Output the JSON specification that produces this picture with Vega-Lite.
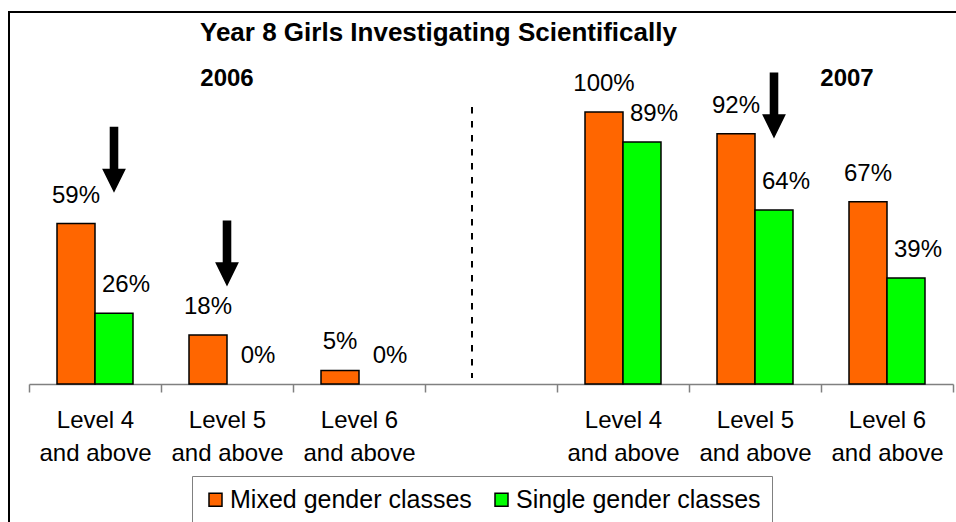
{
  "$schema": "https://vega.github.io/schema/vega-lite/v6.json",
  "width": 953,
  "height": 516,
  "autosize": {"type": "none"},
  "padding": {"left": 9, "top": 12, "right": -6, "bottom": -6},
  "background": "white",
  "title": {
    "text": "Year 8 Girls Investigating Scientifically",
    "anchor": "start",
    "frame": "group",
    "dx": 191,
    "offset": -55,
    "baseline": "alphabetic",
    "fontSize": 26,
    "font": "Liberation Sans",
    "fontWeight": "bold",
    "color": "black"
  },
  "datasets": {
    "bars": [
      {"cat": "L4-2006", "series": "Mixed gender classes", "value": 0.59},
      {"cat": "L4-2006", "series": "Single gender classes", "value": 0.26},
      {"cat": "L5-2006", "series": "Mixed gender classes", "value": 0.18},
      {"cat": "L5-2006", "series": "Single gender classes", "value": 0.0},
      {"cat": "L6-2006", "series": "Mixed gender classes", "value": 0.05},
      {"cat": "L6-2006", "series": "Single gender classes", "value": 0.0},
      {"cat": "L4-2007", "series": "Mixed gender classes", "value": 1.0},
      {"cat": "L4-2007", "series": "Single gender classes", "value": 0.89},
      {"cat": "L5-2007", "series": "Mixed gender classes", "value": 0.92},
      {"cat": "L5-2007", "series": "Single gender classes", "value": 0.64},
      {"cat": "L6-2007", "series": "Mixed gender classes", "value": 0.67},
      {"cat": "L6-2007", "series": "Single gender classes", "value": 0.39}
    ],
    "arrows": [
      {"cat": "L4-2006", "series": "Single gender classes", "value": 0.824},
      {"cat": "L5-2007", "series": "Single gender classes", "value": 1.024}
    ],
    "arrows2": [
      {"cat": "L5-2006", "value": 0.48}
    ]
  },
  "config": {
    "view": {"stroke": "black", "strokeWidth": 2},
    "font": "Liberation Sans"
  },
  "layer": [
    {
      "data": {"name": "bars"},
      "transform": [{"filter": "datum.value > 0"}],
      "mark": {"type": "bar", "stroke": "black", "strokeWidth": 1.5},
      "encoding": {
        "x": {
          "field": "cat",
          "type": "nominal",
          "scale": {
            "domain": ["L4-2006", "L5-2006", "L6-2006", "gap", "L4-2007", "L5-2007", "L6-2007"],
            "range": [20, 944],
            "paddingInner": 0,
            "paddingOuter": 0
          },
          "axis": {
            "title": null,
            "orient": "bottom",
            "offset": -144,
            "tickBand": "extent",
            "tickSize": 8,
            "tickColor": "#808080",
            "tickWidth": 1.5,
            "domainColor": "#808080",
            "domainWidth": 1.5,
            "labelFontSize": 24,
            "labelFont": "Liberation Sans",
            "labelColor": "black",
            "labelLineHeight": 33,
            "labelPadding": 16,
            "labelAngle": 0,
            "labelBaseline": "top",
            "labelOverlap": false,
            "labelExpr": "isString(datum.value) && indexof(datum.value, 'L') == 0 ? ['Level ' + substring(datum.value, 1, 2), 'and above'] : ''",
            "grid": false
          }
        },
        "xOffset": {
          "field": "series",
          "type": "nominal",
          "scale": {"domain": ["Mixed gender classes", "Single gender classes"], "paddingInner": 0, "paddingOuter": 0.737}
        },
        "y": {
          "field": "value",
          "type": "quantitative",
          "scale": {"domain": [0, 1.3676], "range": [372, 0], "nice": false},
          "axis": null
        },
        "color": {
          "field": "series",
          "type": "nominal",
          "scale": {"domain": ["Mixed gender classes", "Single gender classes"], "range": ["#FF6600", "#00FF00"]},
          "legend": {
            "orient": "none",
            "legendX": 183,
            "legendY": 464,
            "direction": "horizontal",
            "title": null,
            "labelFontSize": 25,
            "labelFont": "Liberation Sans",
            "labelColor": "black",
            "labelLimit": 500,
            "symbolType": "square",
            "symbolSize": 169,
            "symbolStrokeColor": "black",
            "symbolStrokeWidth": 1.5,
            "symbolOpacity": 1,
            "strokeColor": "#808080",
            "fillColor": "white",
            "padding": 11,
            "columnPadding": 17,
            "labelOffset": 2
          }
        }
      }
    },
    {
      "data": {"name": "bars"},
      "transform": [{"filter": "datum.series == 'Mixed gender classes'"}],
      "mark": {"type": "text", "dy": -21, "baseline": "alphabetic", "fontSize": 24, "font": "Liberation Sans", "color": "black"},
      "encoding": {
        "x": {"field": "cat", "type": "nominal"},
        "xOffset": {"field": "series", "type": "nominal"},
        "y": {"field": "value", "type": "quantitative"},
        "text": {"field": "value", "type": "quantitative", "format": ".0%"}
      }
    },
    {
      "data": {"name": "bars"},
      "transform": [{"filter": "datum.series == 'Single gender classes'"}],
      "mark": {"type": "text", "dy": -21, "dx": 12, "baseline": "alphabetic", "fontSize": 24, "font": "Liberation Sans", "color": "black"},
      "encoding": {
        "x": {"field": "cat", "type": "nominal"},
        "xOffset": {"field": "series", "type": "nominal"},
        "y": {"field": "value", "type": "quantitative"},
        "text": {"field": "value", "type": "quantitative", "format": ".0%"}
      }
    },
    {
      "data": {"name": "arrows"},
      "mark": {"type": "point", "shape": "M -0.13 -1 L 0.13 -1 L 0.13 0.27 L 0.36 0.27 L 0 1 L -0.36 0.27 L -0.13 0.27 Z", "size": 4356, "filled": true, "color": "black", "opacity": 1},
      "encoding": {
        "x": {"field": "cat", "type": "nominal"},
        "xOffset": {"field": "series", "type": "nominal"},
        "y": {"field": "value", "type": "quantitative"}
      }
    },
    {
      "data": {"name": "arrows2"},
      "mark": {"type": "point", "shape": "M -0.13 -1 L 0.13 -1 L 0.13 0.27 L 0.36 0.27 L 0 1 L -0.36 0.27 L -0.13 0.27 Z", "size": 4356, "filled": true, "color": "black", "opacity": 1},
      "encoding": {
        "x": {"field": "cat", "type": "nominal"},
        "y": {"field": "value", "type": "quantitative"}
      }
    },
    {
      "data": {"values": [{}]},
      "mark": {"type": "rule", "strokeDash": [6.5, 7.5], "strokeWidth": 2, "color": "black"},
      "encoding": {
        "x": {"datum": "gap"},
        "xOffset": {"datum": "Mixed gender classes"},
        "y": {"datum": 1.018},
        "y2": {"datum": 0.022}
      }
    },
    {
      "data": {"values": [{}]},
      "mark": {"type": "text", "text": "2006", "baseline": "alphabetic", "align": "center", "fontSize": 24, "fontWeight": "bold", "font": "Liberation Sans", "color": "black"},
      "encoding": {
        "x": {"datum": "L5-2006"},
        "y": {"datum": 1.096}
      }
    },
    {
      "data": {"values": [{}]},
      "mark": {"type": "text", "text": "2007", "baseline": "alphabetic", "align": "center", "dx": -21, "fontSize": 24, "fontWeight": "bold", "font": "Liberation Sans", "color": "black"},
      "encoding": {
        "x": {"datum": "L6-2007"},
        "xOffset": {"datum": "Mixed gender classes"},
        "y": {"datum": 1.096}
      }
    }
  ]
}
